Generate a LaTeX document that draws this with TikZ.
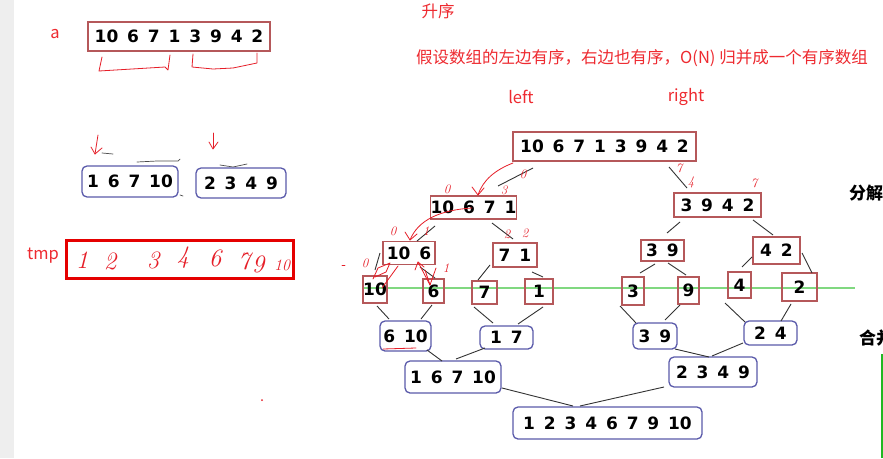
\documentclass[tikz,border=0pt]{standalone}
\usepackage{fontspec}
\newfontfamily\numf{DejaVu Sans}[WordSpace=1.5]
\newfontfamily\cjk{Noto Sans CJK SC}
\usetikzlibrary{arrows.meta}
\definecolor{dred}{HTML}{B5585A}
\definecolor{mblue}{HTML}{5A5AAA}
\definecolor{tred}{HTML}{EE2A30}
\definecolor{hred}{HTML}{E61E28}
\definecolor{lgreen}{HTML}{80D880}
\definecolor{dgreen}{HTML}{22B822}
\definecolor{lgray}{HTML}{EEEEEE}
\newcommand\linkk[6]{\draw[conn] ([shift={(#2,#3)}]#1.center) -- ([shift={(#5,#6)}]#4.center);}
\begin{document}
\begin{tikzpicture}[x=1pt,y=-1pt,
 dbox/.style={draw=dred, line width=1.3pt, inner sep=0pt, font=\numf\bfseries\fontsize{17}{20}\selectfont},
 mbox/.style={draw=mblue, line width=1.3pt, rounded corners=5pt, inner sep=0pt, font=\numf\bfseries\fontsize{17}{20}\selectfont},
 conn/.style={draw=black!80, line width=0.9pt},
 rtext/.style={text=tred, font=\cjk\fontsize{16.5}{19}\selectfont, inner sep=0pt},
 hand/.style={text=hred, font=\itshape\fontsize{13}{14}\selectfont, inner sep=0pt},
 tmpd/.style={text=hred, font=\itshape\fontsize{25}{27}\selectfont, inner sep=0pt},
 hline/.style={draw=hred, line width=0.8pt, line cap=round, line join=round},
 smark/.style={draw=black!70, line width=0.7pt, line cap=round},
 ]
\useasboundingbox (0,0) rectangle (883,458);
\fill[white] (0,0) rectangle (883,458);
\fill[lgray] (0,0) rectangle (14,458);

% green lines
\draw[lgreen, line width=2pt] (362,288) -- (855,288);
\draw[dgreen, line width=2pt] (882,354) -- (882,458);

% ---------- left part ----------
\node[rtext] (la) at (55,34) {a};
\node[dbox, minimum width=182, minimum height=29] (A) at (179,36.5) {10 6 7 1 3 9 4 2};
\draw[hline] (102,57) -- (99,71) -- (165,67) -- (168,70) -- (170,55);
\draw[hline] (193,54) -- (192,67) -- (213,69) -- (233,68) -- (257,63) -- (257,53);

\draw[hline] (98,135) -- (95,154);
\draw[hline] (91,147) -- (95,154) -- (102,148);
\draw[hline] (213,133) -- (213,148);
\draw[hline] (209,142) -- (213,149) -- (218,142);

\draw[smark] (102,153) -- (113,154);
\draw[smark] (137,162) -- (157,161) -- (178,161) -- (180,159);
\draw[smark] (180,195) -- (183,196);
\draw[smark] (220,165) -- (233,167) -- (247,164);

\node[mbox, minimum width=96, minimum height=31] (s1) at (130,181.5) {1 6 7 10};
\node[mbox, minimum width=90, minimum height=30] (s2) at (241,183) {2 3 4 9};

\node[rtext] (ltmp) at (43,256) {tmp};
\draw[draw=red!90!black, line width=3pt] (66,240) rectangle (293,278);
\node[tmpd] (t1) at (82,260) {1};
\node[tmpd] (t2) at (110,261) {2};
\node[tmpd] (t3) at (153,260) {3};
\node[tmpd] (t4) at (183,258) {4};
\node[tmpd] (t5) at (215,258) {6};
\node[tmpd] (t6) at (244,261) {7};
\node[tmpd] (t7) at (258,264) {9};
\node[tmpd, font=\itshape\fontsize{16}{17}\selectfont] (t8) at (282,265) {10};
\fill[hred] (262,400) circle (1pt);

% ---------- titles ----------
\node[rtext] (asc) at (438,11) {升序};
\node[rtext] (desc) at (642,58) {假设数组的左边有序，右边也有序，O(N) 归并成一个有序数组};
\node[rtext] (lft) at (521,97) {left};
\node[rtext] (rgt) at (686,97) {right};
\node[anchor=west, inner sep=0pt, font=\cjk\bfseries\fontsize{17}{20}\selectfont] (fj) at (849,193) {分解};
\node[anchor=west, inner sep=0pt, font=\cjk\bfseries\fontsize{17}{20}\selectfont] (hb) at (859,338) {合并};

% ---------- split tree ----------
\node[dbox, minimum width=183, minimum height=29] (top) at (604.5,146.5) {10 6 7 1 3 9 4 2};
\node[dbox, minimum width=85, minimum height=23] (L1) at (473.5,207.5) {10 6 7 1};
\node[dbox, minimum width=87, minimum height=24] (R1) at (717.5,205) {3 9 4 2};
\node[dbox, minimum width=52, minimum height=23] (LL) at (409,253) {10 6};
\node[dbox, minimum width=44, minimum height=24] (LR) at (515,255) {7 1};
\node[dbox, minimum width=43, minimum height=21] (RL) at (662.5,250.5) {3 9};
\node[dbox, minimum width=47, minimum height=27] (RR) at (776.5,250.5) {4 2};
\node[dbox, minimum width=24, minimum height=27] (n10) at (375,289.5) {10};
\node[dbox, minimum width=21, minimum height=24] (n6) at (433.5,291) {6};
\node[dbox, minimum width=25, minimum height=23] (n7) at (484.5,292.5) {7};
\node[dbox, minimum width=28, minimum height=25] (n1) at (539,291.5) {1};
\node[dbox, minimum width=22, minimum height=28] (n3) at (633,291) {3};
\node[dbox, minimum width=21, minimum height=27] (n9) at (688.5,290.5) {9};
\node[dbox, minimum width=23, minimum height=26] (n4) at (739.5,285) {4};
\node[dbox, minimum width=35, minimum height=28] (n2) at (799.5,287) {2};

% ---------- merge tree ----------
\node[mbox, minimum width=51, minimum height=30] (m610) at (405.5,336) {6 10};
\node[mbox, minimum width=53, minimum height=23] (m17) at (506.5,337.5) {1 7};
\node[mbox, minimum width=44, minimum height=26] (m39) at (655,336) {3 9};
\node[mbox, minimum width=53, minimum height=24] (m24) at (770.5,333) {2 4};
\node[mbox, minimum width=96, minimum height=32] (mA) at (453,377) {1 6 7 10};
\node[mbox, minimum width=88, minimum height=30] (mB) at (713,372) {2 3 4 9};
\node[mbox, minimum width=189, minimum height=32] (fin) at (607.5,423) {1 2 3 4 6 7 9 10};

% ---------- connectors ----------
\linkk{top}{-71.5}{21.5}{L1}{24.5}{-21.5}
\linkk{top}{64.5}{20.5}{R1}{-30.5}{-17}
\linkk{L1}{-38.5}{18.5}{LL}{8}{-12}
\linkk{L1}{18.5}{15.5}{LR}{-2}{-16}
\linkk{R1}{-37.5}{17}{RL}{4.5}{-17.5}
\linkk{R1}{35.5}{15}{RR}{-3.5}{-15.5}
\linkk{LL}{-29}{0}{n10}{0}{-19.5}
\linkk{LL}{11}{14}{n6}{1.5}{-13}
\linkk{LR}{-25}{10}{n7}{-6.5}{-12.5}
\linkk{LR}{17}{17}{n1}{4}{-14.5}
\linkk{RL}{-7.5}{13.5}{n3}{7}{-18}
\linkk{RL}{5.5}{12.5}{n9}{-2.5}{-15.5}
\linkk{RR}{-24.5}{6.5}{n4}{2.5}{-18}
\linkk{RR}{25.5}{2.5}{n2}{12.5}{-14}
\linkk{n10}{2}{16.5}{m610}{-16.5}{-17}
\linkk{n6}{-1.5}{14}{m610}{15.5}{-17}
\linkk{n7}{-10.5}{14.5}{m17}{-13.5}{-14.5}
\linkk{n1}{4}{15.5}{m17}{11.5}{-13.5}
\linkk{n3}{-13}{15}{m39}{-19}{-13}
\linkk{n9}{-8.5}{14.5}{m39}{10}{-16}
\linkk{n4}{-14.5}{18}{m24}{-25.5}{-11}
\linkk{n2}{-8.5}{17}{m24}{10.5}{-12}
\linkk{m610}{21.5}{14}{mA}{-11}{-16}
\linkk{m17}{-21.5}{10.5}{mA}{3}{-18}
\linkk{m39}{20}{13}{mB}{-4}{-15}
\linkk{m24}{-27.5}{10}{mB}{-1}{-16}
\linkk{mA}{49}{11}{fin}{-34.5}{-17}
\linkk{mB}{-49}{15}{fin}{-27.5}{-17}

% ---------- red handwriting in the tree ----------
\node[hand] (h1) at (523,174) {0};
\node[hand] (h2) at (504,190) {3};
\node[hand] (h3) at (447,189) {0};
\node[hand] (h4) at (393,231) {0};
\node[hand] (h5) at (426,231) {1};
\node[hand] (h6) at (507,234) {2};
\node[hand] (h7) at (525,233) {2};
\node[hand] (h8) at (365,263) {0};
\node[hand] (h9) at (446,268) {1};
\node[hand] (h10) at (679,168) {7};
\node[hand] (h11) at (691,182) {4};
\node[hand] (h12) at (754,183) {7};
\draw[hline] (513,163) .. controls (495,170) and (483,180) .. (478,195);
\draw[hline] (472,187) -- (478,195) -- (484,188);
\draw[hline] (472,208) .. controls (440,210) and (418,220) .. (410,240);
\draw[hline] (405,232) -- (410,240) -- (417,234);
\draw[hline] (373,279) -- (378,268) -- (390,263) -- (386,272) -- (375,277);
\draw[hline] (382,288) -- (398,266);
\draw[hline] (430,285) -- (418,262);
\draw[hline] (415,270) -- (418,262) -- (424,267);
\draw[hline] (430,285) -- (436,268);
\draw[hline] (430,285) -- (425,270);
\draw[hline] (342,265) -- (345,265);
\draw[hline] (383,349) -- (416,348);
\end{tikzpicture}
\end{document}
